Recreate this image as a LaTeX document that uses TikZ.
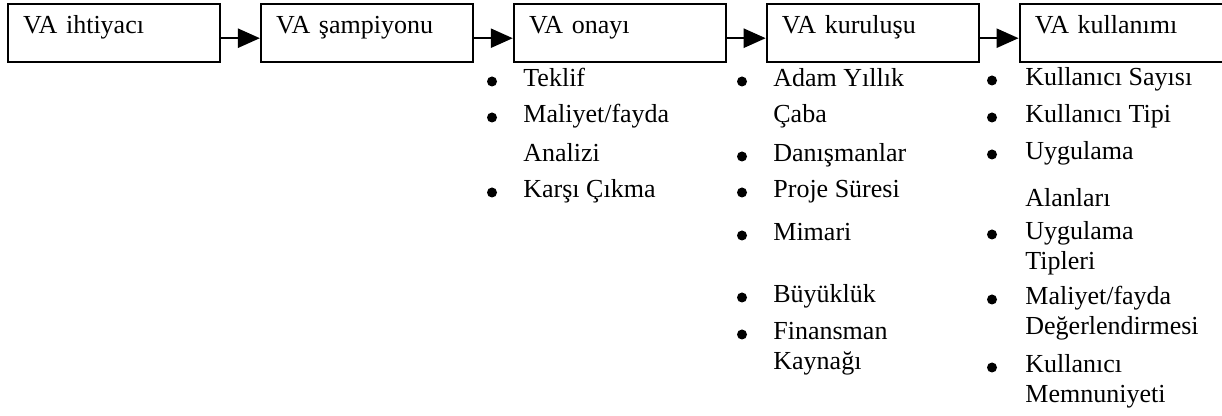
\documentclass[tikz,border=0pt]{standalone}
\usepackage{fontspec}
\setmainfont{Liberation Serif}
\usepackage{tikz}
\usetikzlibrary{positioning, arrows.meta}

\tikzset{
  stage/.style={draw, line width=1.2pt, anchor=north west, text width=91pt, align=left,
    inner xsep=7.5pt, inner ysep=0pt, text height=14.5pt, text depth=14.5pt},
  item/.style={anchor=base west, inner sep=0pt},
  flow/.style={line width=1.2pt, -{Triangle[length=11pt,width=9.5pt]}},
}

\begin{document}
\begin{tikzpicture}[x=0.5pt, y=-0.5pt, font=\fontsize{13}{15}\selectfont]
\useasboundingbox (0,0) rectangle (1222,416);

% the five stages
\node[stage] (ihtiyac) at (7,3) {VA ihtiyacı};
\node[stage, right=19.25pt of ihtiyac] (sampiyon) {VA şampiyonu};
\node[stage, right=19.25pt of sampiyon] (onay) {VA onayı};
\node[stage, right=19.25pt of onay] (kurulus) {VA kuruluşu};
\node[stage, right=19.25pt of kurulus] (kullanim) {VA kullanımı};

\draw[flow] ([yshift=-2.5pt]ihtiyac.east) -- ([yshift=-2.5pt]sampiyon.west);
\draw[flow] ([yshift=-2.5pt]sampiyon.east) -- ([yshift=-2.5pt]onay.west);
\draw[flow] ([yshift=-2.5pt]onay.east) -- ([yshift=-2.5pt]kurulus.west);
\draw[flow] ([yshift=-2.5pt]kurulus.east) -- ([yshift=-2.5pt]kullanim.west);

% VA onayi
\node[item] (teklif) at (523,87) {Teklif};
\node[item] (maliyet) at (523,123) {Maliyet/fayda};
\node[item] (analiz) at (523,162) {Analizi};
\node[item] (karsi) at (523,198) {Karşı Çıkma};

% VA kurulusu
\node[item] (adam) at (773,87) {Adam Yıllık};
\node[item] (caba) at (773,123) {Çaba};
\node[item] (danisman) at (773,162) {Danışmanlar};
\node[item] (proje) at (773,198) {Proje Süresi};
\node[item] (mimari) at (773,241) {Mimari};
\node[item] (buyukluk) at (773,303) {Büyüklük};
\node[item] (finansman) at (773,340) {Finansman};
\node[item] (kaynak) at (773,370) {Kaynağı};

% VA kullanimi
\node[item] (sayi) at (1025,86) {Kullanıcı Sayısı};
\node[item] (tip) at (1025,123) {Kullanıcı Tipi};
\node[item] (uygalan) at (1025,160) {Uygulama};
\node[item] (alan) at (1025,207) {Alanları};
\node[item] (uygtip) at (1025,240) {Uygulama};
\node[item] (tipler) at (1025,270) {Tipleri};
\node[item] (degmal) at (1025,305) {Maliyet/fayda};
\node[item] (deger) at (1025,335) {Değerlendirmesi};
\node[item] (kullanici) at (1025,373) {Kullanıcı};
\node[item] (memnun) at (1025,403) {Memnuniyeti};

% bullets
\foreach \n in {teklif,maliyet,karsi,adam,danisman,proje,mimari,buyukluk,finansman}
  \fill ([xshift=-15.5pt,yshift=2.75pt]\n.base west) circle (2.5pt);
\foreach \n in {sayi,tip,uygalan,uygtip,degmal,kullanici}
  \fill ([xshift=-16.5pt,yshift=2.75pt]\n.base west) circle (2.5pt);
\end{tikzpicture}
\end{document}
